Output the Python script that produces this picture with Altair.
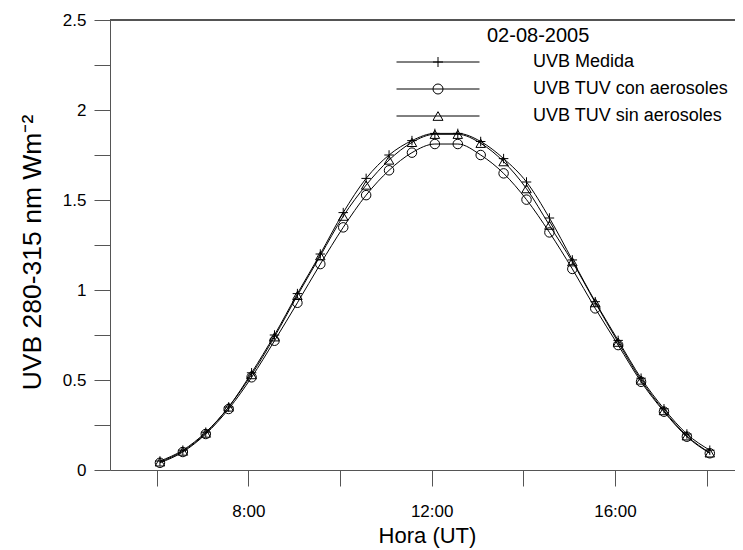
import altair as alt
import pandas as pd

# Hora (UT), decimal hours
hours = [6.07, 6.57, 7.07, 7.57, 8.07, 8.57, 9.07, 9.57, 10.07, 10.57, 11.07, 11.57,
         12.07, 12.57, 13.07, 13.57, 14.07, 14.57, 15.07, 15.57, 16.07, 16.57, 17.07, 17.57, 18.07]
medida = [0.05, 0.11, 0.21, 0.35, 0.54, 0.75, 0.98, 1.20, 1.43, 1.62, 1.75, 1.83,
          1.87, 1.87, 1.825, 1.73, 1.60, 1.40, 1.167, 0.935, 0.72, 0.51, 0.34, 0.20, 0.11]
con_aer = [0.04, 0.10, 0.20, 0.339, 0.515, 0.718, 0.929, 1.144, 1.348, 1.527, 1.665, 1.763,
           1.811, 1.811, 1.75, 1.648, 1.502, 1.32, 1.117, 0.898, 0.694, 0.49, 0.324, 0.185, 0.093]
sin_aer = [0.045, 0.105, 0.205, 0.35, 0.53, 0.74, 0.97, 1.19, 1.41, 1.583, 1.722, 1.82,
           1.865, 1.865, 1.815, 1.713, 1.563, 1.36, 1.157, 0.93, 0.71, 0.50, 0.33, 0.19, 0.095]
series = ["UVB Medida", "UVB TUV con aerosoles", "UVB TUV sin aerosoles"]
x_ticks = [6, 8, 10, 12, 14, 16, 18]
y_ticks = [0, 0.25, 0.5, 0.75, 1, 1.25, 1.5, 1.75, 2, 2.25, 2.5]

rows = []
for name, vals in zip(series, [medida, con_aer, sin_aer]):
    for h, v in zip(hours, vals):
        rows.append({"hora": h, "uvb": v, "serie": name})
df = pd.DataFrame(rows)

FONT = "Liberation Sans"
AX = "#555555"

x = alt.X("hora:Q",
          scale=alt.Scale(domain=[4.98, 18.62], nice=False, zero=False),
          axis=alt.Axis(values=x_ticks, title="Hora (UT)", grid=False,
                        labelExpr="datum.value % 4 == 0 ? datum.value + ':00' : ''",
                        tickSize=16, labelPadding=17, labelFontSize=17, labelFont=FONT,
                        labelColor="black", titleFont=FONT, titleFontSize=22,
                        titleFontWeight="normal", titleColor="black",
                        titleX=317, titleY=72, titleBaseline="alphabetic",
                        domainColor=AX, tickColor=AX))
y = alt.Y("uvb:Q",
          scale=alt.Scale(domain=[0, 2.5], nice=False),
          axis=alt.Axis(values=y_ticks, title="UVB 280-315 nm Wm⁻²", grid=False,
                        labelExpr="datum.value % 0.5 == 0 ? datum.value + '' : ''",
                        tickSize=16, labelPadding=8, labelFontSize=17, labelFont=FONT,
                        labelColor="black", titleFont=FONT, titleFontSize=26.5,
                        titleFontWeight="normal", titleColor="black",
                        titleX=-78, titleY=232, titleBaseline="middle",
                        domainColor=AX, tickColor=AX))

leg_common = dict(orient="none", legendX=319, legendY=33, title=None,
                  labelOffset=86, labelFontSize=18, labelFont=FONT, labelLimit=400,
                  rowPadding=9, padding=0)

lines = alt.Chart(df).mark_line(interpolate="monotone", strokeWidth=1).encode(
    x=x, y=y,
    color=alt.Color("serie:N",
                    scale=alt.Scale(domain=series, range=["black", "black", "black"]),
                    legend=alt.Legend(symbolType="M-8.3,0H8.3", symbolSize=100,
                                      symbolStrokeWidth=1, symbolStrokeColor="black",
                                      labelColor="black", **leg_common)),
)

points = alt.Chart(df).mark_point(filled=False, color="black", strokeWidth=1, size=90, opacity=1).encode(
    x=x, y=y,
    shape=alt.Shape("serie:N",
                    scale=alt.Scale(domain=series,
                                    range=["M-1,0H1M0,-1V1", "circle", "triangle-up"]),
                    legend=alt.Legend(labelOpacity=0, symbolStrokeColor="black",
                                      symbolStrokeWidth=1, **leg_common)),
)

top = alt.Chart(df).mark_rule(color=AX, strokeWidth=1).encode(y=alt.datum(2.5))

chart = alt.layer(lines, points, top).resolve_legend(color="independent", shape="independent").properties(
    width=625, height=450,
    autosize=alt.AutoSizeParams(type="none"),
    padding={"left": 102, "top": 12, "right": 0, "bottom": 79},
    title=alt.TitleParams(text="02-08-2005", anchor="start", dx=468, dy=45, offset=0,
                          baseline="middle", fontSize=20, fontWeight="normal",
                          font=FONT, color="black"),
).configure_view(stroke=None)

chart.save("out.html", embed_options={"renderer": "svg", "actions": False})
